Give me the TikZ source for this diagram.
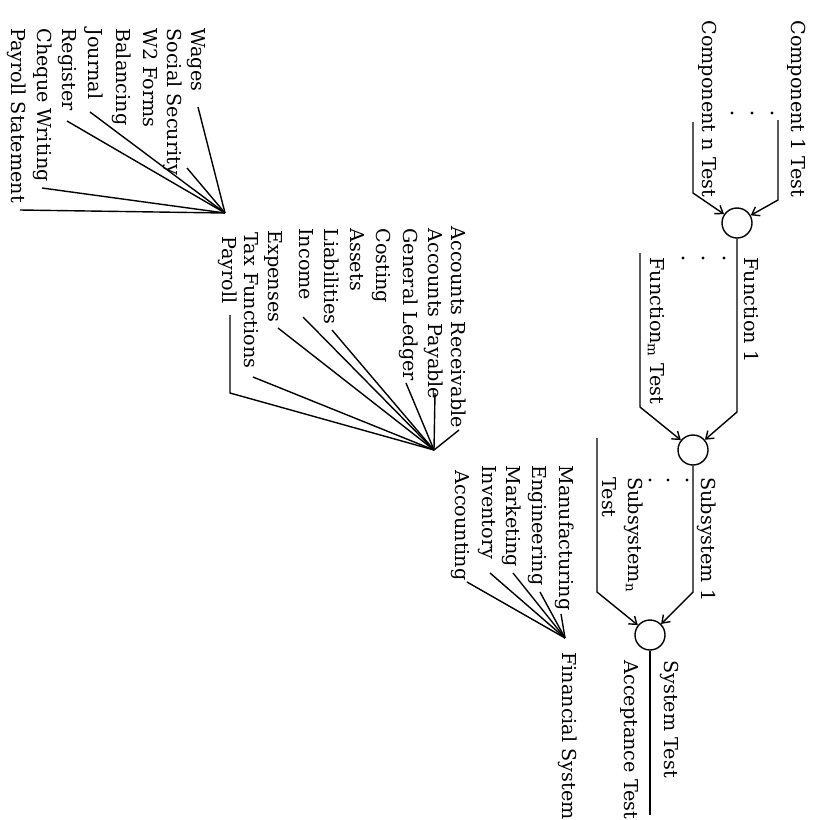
\documentclass[tikz,border=0pt]{standalone}
\usepackage{fontspec}
\setmainfont{DejaVu Serif}
\usetikzlibrary{arrows.meta}
\begin{document}
\begin{tikzpicture}[x=0.5pt,y=-0.5pt,
  lbl/.style={rotate=-90,anchor=mid west,inner sep=0pt,font=\fontsize{9.6}{11}\selectfont},
  ln/.style={line width=0.7pt},
  arr/.style={ln,-{Straight Barb[length=3.5pt,width=5pt]}},
  junction/.style={circle,draw,line width=0.7pt,minimum size=15pt,inner sep=0pt},
  dot/.style={circle,fill,inner sep=0pt,minimum size=1.6pt}]
\useasboundingbox (0,0) rectangle (814,820);

% ---------- integration chain ----------
\node[junction] (j1) at (737,223) {};
\node[junction] (j2) at (693,450) {};
\node[junction] (j3) at (650,635) {};

\node[lbl] (c1) at (797,20) {Component 1 Test};
\node[lbl] (cn) at (708,20) {Component n Test};
\node[dot] (d1a) at (732,113) {};
\node[dot] (d1b) at (752,113) {};
\node[dot] (d1c) at (772,113) {};
\coordinate (c1a) at (778,120); \coordinate (c1b) at (778,200);
\coordinate (cna) at (693,122); \coordinate (cnb) at (693,193);
\draw[arr] (c1a) -- (c1b) -- (j1);
\draw[arr] (cna) -- (cnb) -- (j1);

\node[lbl] (f1) at (750,257) {Function 1};
\node[lbl] (fm) at (656,257) {Function\textsubscript{m} Test};
\node[dot] (d2a) at (683,258) {};
\node[dot] (d2b) at (703,258) {};
\node[dot] (d2c) at (724,258) {};
\coordinate (f1b) at (737,412);
\coordinate (fma) at (640,253); \coordinate (fmb) at (640,407);
\draw[arr] (j1) -- (f1b) -- (j2);
\draw[arr] (fma) -- (fmb) -- (j2);

\node[lbl] (s1) at (707,477) {Subsystem 1};
\node[lbl] (sn) at (634,477) {Subsystem\textsubscript{n}};
\node[lbl] (snt) at (608,477) {Test};
\node[dot] (d3a) at (650,480) {};
\node[dot] (d3b) at (668,480) {};
\node[dot] (d3c) at (687,480) {};
\coordinate (s1b) at (693,592);
\coordinate (sna) at (597,438); \coordinate (snb) at (597,592);
\draw[arr] (j2) -- (s1b) -- (j3);
\draw[arr] (sna) -- (snb) -- (j3);

\node[lbl] (st) at (670,660) {System Test};
\node[lbl] (at) at (630,660) {Acceptance Test};
\coordinate (stend) at (650,815);
\draw[ln] (j3) -- (stend);

% ---------- financial system ----------
\coordinate (fs) at (565,638);
\node[lbl] (fsys) at (568,652) {Financial System};
\node[lbl] (man) at (565,465) {Manufacturing};
\node[lbl] (eng) at (538,465) {Engineering};
\node[lbl] (mkt) at (512,465) {Marketing};
\node[lbl] (inv) at (488,465) {Inventory};
\node[lbl] (acc) at (461,470) {Accounting};
\coordinate (man1) at (561,614);
\coordinate (eng1) at (540,592);
\coordinate (mkt1) at (513,573);
\coordinate (inv1) at (490,573);
\coordinate (acc1) at (467,582);
\foreach \p in {man1,eng1,mkt1,inv1,acc1} \draw[ln] (\p) -- (fs);

% ---------- accounting ----------
\coordinate (ac) at (434,450);
\node[lbl] (ar) at (457,226) {Accounts Receivable};
\node[lbl] (ap) at (434,228) {Accounts Payable};
\node[lbl] (gl) at (409,228) {General Ledger};
\node[lbl] (cost) at (382,228) {Costing};
\node[lbl] (ass) at (356,228) {Assets};
\node[lbl] (lia) at (330,228) {Liabilities};
\node[lbl] (inc) at (305,228) {Income};
\node[lbl] (exp) at (274,230) {Expenses};
\node[lbl] (tax) at (250,232) {Tax Functions};
\node[lbl] (pay) at (228,236) {Payroll};
\coordinate (ar1) at (459,430);
\coordinate (ap1) at (435,393);
\coordinate (gl1) at (406,383);
\coordinate (lia1) at (332,330);
\coordinate (inc1) at (303,317);
\coordinate (exp1) at (278,328);
\coordinate (tax1) at (253,377);
\coordinate (pay1) at (230,315);
\coordinate (pay2) at (230,393);
\foreach \p in {ar1,ap1,gl1,lia1,inc1,exp1,tax1} \draw[ln] (\p) -- (ac);
\draw[ln] (pay1) -- (pay2) -- (ac);

% ---------- payroll ----------
\coordinate (pf) at (225,213);
\node[lbl] (wag) at (197,28) {Wages};
\node[lbl] (soc) at (173,28) {Social Security};
\node[lbl] (w2) at (149,28) {W2 Forms};
\node[lbl] (bal) at (122,28) {Balancing};
\node[lbl] (jou) at (94,28) {Journal};
\node[lbl] (reg) at (68,28) {Register};
\node[lbl] (chq) at (43,28) {Cheque Writing};
\node[lbl] (pst) at (17,28) {Payroll Statement};
\coordinate (wag1) at (198,107);
\coordinate (soc1) at (187,168);
\coordinate (jou1) at (90,112);
\coordinate (reg1) at (67,121);
\coordinate (chq1) at (42,188);
\coordinate (pst1) at (20,210);
\foreach \p in {wag1,soc1,jou1,reg1,chq1,pst1} \draw[ln] (\p) -- (pf);
\end{tikzpicture}
\end{document}
